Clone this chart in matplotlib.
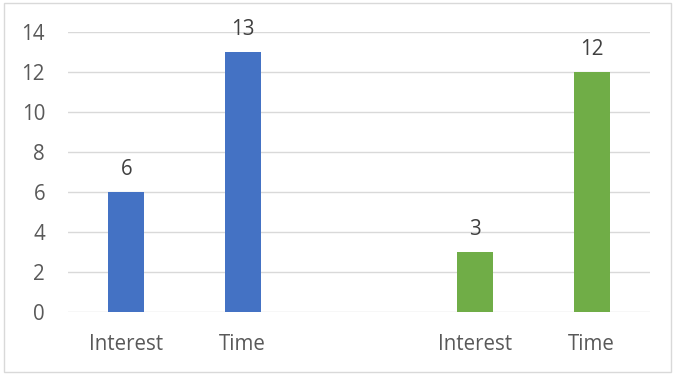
import matplotlib
matplotlib.use("Agg")
import matplotlib.pyplot as plt
from matplotlib.patches import Rectangle

categories = ["Interest", "Time", "", "Interest", "Time"]
values = [6, 13, None, 3, 12]
colors = ["#4472C4", "#4472C4", None, "#70AD47", "#70AD47"]
yticks = [0, 2, 4, 6, 8, 10, 12, 14]

plt.rcParams["font.family"] = ["Open Sans", "DejaVu Sans"]
text_color = "#595959"
fs = 14.8

fig = plt.figure(figsize=(6.75, 3.74), dpi=100)
W, H = 675, 374
ax = fig.add_axes([68 / W, (H - 312) / H, 582 / W, 280 / H])

x = list(range(len(categories)))
for xi, v, c in zip(x, values, colors):
    if v is None:
        continue
    ax.bar(xi, v, width=0.31, color=c, zorder=3)
    ax.text(xi, v + 0.6, str(v), ha="center", va="bottom",
            fontsize=fs, color="#404040")

ax.set_xlim(-0.5, len(categories) - 0.5)
ax.set_ylim(0, 14)
ax.set_yticks(yticks)
ax.set_xticks(x)
ax.set_xticklabels(categories)
ax.tick_params(axis="both", length=0, labelsize=fs, labelcolor=text_color)
ax.tick_params(axis="x", pad=16)
ax.tick_params(axis="y", pad=16.5)
ax.grid(axis="y", color="#d9d9d9", linewidth=1, zorder=0)
for s in ax.spines.values():
    s.set_visible(False)

fig.patches.append(Rectangle((4 / W, 2 / H), (671 - 4) / W, (371 - 2) / H,
                             transform=fig.transFigure, fill=False,
                             edgecolor="#d9d9d9", linewidth=1))

fig.savefig("out.png", dpi=100)
